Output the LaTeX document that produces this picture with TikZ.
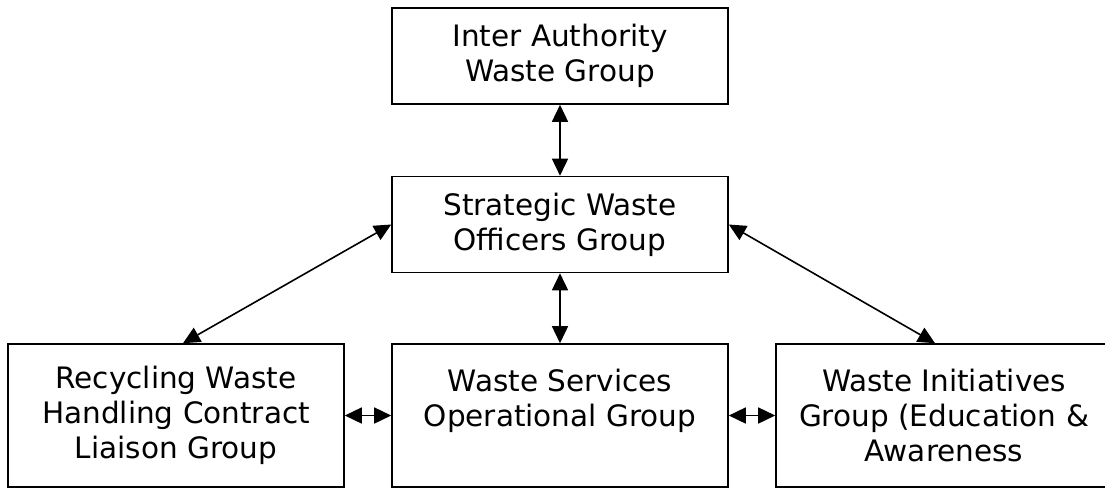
\documentclass[tikz,border=0pt]{standalone}
\usepackage{fontspec}
\setmainfont{DejaVu Sans}
\usetikzlibrary{arrows.meta}
\begin{document}
\begin{tikzpicture}[x=1pt,y=-1pt,
  box/.style={draw=black,line width=1.6pt,rectangle,minimum width=336pt,align=center,
    font=\fontsize{29.5}{35}\selectfont,inner sep=0pt},
  topbox/.style={box,minimum height=96pt},
  lowbox/.style={box,minimum height=143pt},
  link/.style={line width=1.6pt,{Triangle[length=17pt,width=16pt]}-{Triangle[length=17pt,width=16pt]}}]
\useasboundingbox (0,0) rectangle (1105,488);
\clip (0,0) rectangle (1105,488);
\node[topbox] (iaw) at (560,56) {Inter Authority\\Waste Group};
\node[topbox] (swo) at (560,224.5) {Strategic Waste\\Officers Group};
\node[lowbox] (rwh) at (176,415.5) {Recycling Waste\\Handling Contract\\Liaison Group};
\node[lowbox] (wso) at (560,415.5) {Waste Services\\Operational Group\\~};
\node[lowbox] (wig) at (944,415.5) {Waste Initiatives\\Group (Education \&\\Awareness};
\draw[link] (iaw.south) -- (swo.north);
\draw[link] (swo.south) -- (wso.north);
\draw[link] (swo.west) -- ([xshift=7pt]rwh.north);
\draw[link] (swo.east) -- ([xshift=-9pt]wig.north);
\draw[link] (rwh.east) -- (wso.west);
\draw[link] (wso.east) -- (wig.west);
\end{tikzpicture}
\end{document}
